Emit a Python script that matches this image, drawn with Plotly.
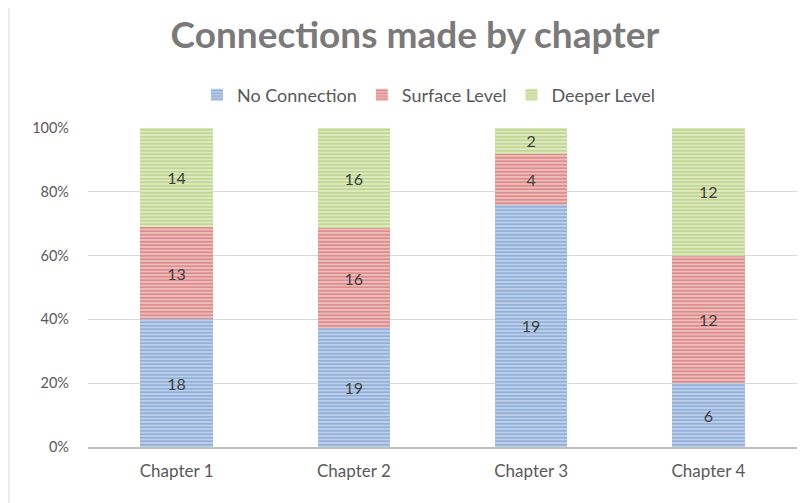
import plotly.graph_objects as go

categories = ["Chapter 1", "Chapter 2", "Chapter 3", "Chapter 4"]
no_connection = [18, 19, 19, 6]
surface_level = [13, 16, 4, 12]
deeper_level = [14, 16, 2, 12]
series_names = ["No Connection", "Surface Level", "Deeper Level"]

styles = [
    ("#5B88C4", "#BDD0EA"),
    ("#C9504D", "#EDBDBC"),
    ("#A0C05C", "#DDEABF"),
]

fig = go.Figure()
for name, vals, (fg, bg) in zip(series_names, [no_connection, surface_level, deeper_level], styles):
    fig.add_trace(go.Bar(
        x=categories, y=vals, name=name,
        text=vals, textposition="inside", insidetextanchor="middle",
        textfont=dict(color="#404040", size=16),
        marker=dict(color=bg, line=dict(width=0),
                    pattern=dict(shape="-", fgcolor=fg, bgcolor=bg, size=3.5, solidity=0.45, fillmode="overlay")),
        hoverinfo="skip",
    ))

OFF = 8  # page body margin
W, H = 811 - OFF, 503 - OFF
L, R, T, B = 88 - OFF, 797 - OFF, 128 - OFF, 447 - OFF
pw, ph = R - L, B - T

fig.update_layout(
    width=W, height=H,
    barmode="stack", barnorm="percent", bargap=0.59,
    paper_bgcolor="white", plot_bgcolor="white",
    font=dict(family="Lato, Noto Sans, sans-serif", color="#595959", size=14),
    margin=dict(l=L, r=W - R, t=T, b=H - B),
    title=dict(text="<b>Connections made by chapter</b>", x=(415 - OFF) / W, xanchor="center",
               y=1 - (35 - OFF) / H, yanchor="middle", font=dict(size=37, color="#7A7A7A")),
    legend=dict(orientation="h", x=(429 - OFF - L) / pw, xanchor="center",
                y=(B - (95 - OFF)) / ph, yanchor="middle", font=dict(size=18, color="#595959"),
                traceorder="normal", itemwidth=30),
    uniformtext=dict(mode="show", minsize=10),
    xaxis=dict(showgrid=False, showline=True, linecolor="#BFBFBF", linewidth=1.5,
               ticks="", ticklabelstandoff=8, tickfont=dict(size=17, color="#595959")),
    yaxis=dict(range=[0, 100], dtick=20, ticksuffix="%", showgrid=True,
               gridcolor="#D9D9D9", gridwidth=1, zeroline=False, showline=False,
               ticks="", ticklabelstandoff=18, tickfont=dict(size=14.5, color="#595959")),
    shapes=[dict(type="rect", xref="paper", yref="paper",
                 x0=(1 - L) / pw, x1=(W + 20 - L) / pw,
                 y0=(B - (H + 20)) / ph, y1=(B - (5 - OFF)) / ph,
                 line=dict(color="#D9D9D9", width=1), fillcolor="rgba(0,0,0,0)", layer="below")],
)

fig.write_html("out.html")
